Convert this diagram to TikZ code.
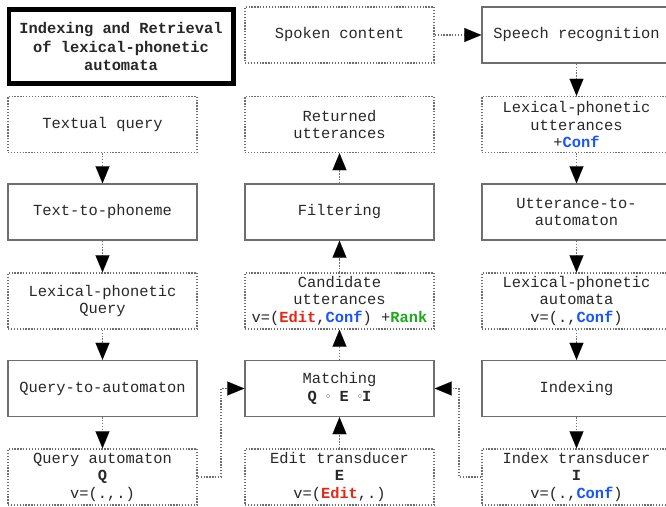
\documentclass[tikz,border=0pt]{standalone}
\usepackage{fontspec}
\setmainfont{Liberation Mono}
\usetikzlibrary{arrows.meta}
\definecolor{boxline}{RGB}{110,110,110}
\definecolor{txt}{RGB}{40,40,40}
\definecolor{editred}{RGB}{228,40,20}
\definecolor{confblue}{RGB}{25,85,255}
\definecolor{rankgreen}{RGB}{30,170,30}
\newcommand{\editv}{\textcolor{editred}{\bfseries Edit}}
\newcommand{\confv}{\textcolor{confblue}{\bfseries Conf}}
\newcommand{\rankv}{\textcolor{rankgreen}{\bfseries Rank}}
\newcommand{\compop}{\raisebox{0.35ex}{\footnotesize$\circ$}}
\tikzset{
  box/.style={rectangle, inner sep=0pt, minimum width=189pt, minimum height=56pt,
    align=center, text=txt, font=\fontsize{15.4}{17.5}\selectfont},
  procbox/.style={box, draw=boxline, line width=1.4pt},
  databox/.style={box, draw=boxline, line width=1.4pt, dash pattern=on 1.3pt off 1.6pt},
  titlebox/.style={rectangle, inner sep=0pt, minimum width=224.5pt, minimum height=74pt,
    align=center, draw=black, line width=4.5pt, text=txt,
    font=\bfseries\fontsize{15.4}{18.5}\selectfont},
  conn/.style={draw=boxline, line width=1.4pt, dash pattern=on 1.3pt off 1.6pt,
    -{Triangle[length=17pt,width=14pt,color=black,line width=0.1pt]}},
}
\begin{document}
\begin{tikzpicture}[x=1pt, y=-1pt]
  \fill[white] (0,0) rectangle (666,506);
  \useasboundingbox (0,0) rectangle (666,506);

  % query side
  \node[titlebox] (title) at (121,46.5) {Indexing and Retrieval\\of lexical-phonetic\\automata};
  \node[databox] (tq) at (102.5,124.5) {Textual query};
  \node[procbox] (t2p) at (102.5,212) {Text-to-phoneme};
  \node[databox] (lpq) at (102.5,301) {Lexical-phonetic\\Query};
  \node[procbox] (q2a) at (102.5,388.5) {Query-to-automaton};
  \node[databox] (qa) at (102.5,477) {Query automaton\\{\bfseries Q}\\v=(.,.)};

  % matching column
  \node[databox] (spoken) at (339.5,35) {Spoken content};
  \node[databox] (ret) at (339.5,124.5) {Returned\\utterances};
  \node[procbox] (filt) at (339.5,212) {Filtering};
  \node[databox] (cand) at (339.5,301) {Candidate\\utterances\\v=(\editv,\confv) +\rankv};
  \node[procbox] (match) at (339.5,388.5) {Matching\\{\bfseries Q} \compop{} {\bfseries E} \compop{\bfseries I}};
  \node[databox] (edit) at (339.5,477) {Edit transducer\\{\bfseries E}\\v=(\editv,.)};

  % index side
  \node[procbox] (asr) at (576.5,35) {Speech recognition};
  \node[databox] (lpu) at (576.5,124.5) {Lexical-phonetic\\utterances\\+\confv};
  \node[procbox] (u2a) at (576.5,212) {Utterance-to-\\automaton};
  \node[databox] (lpa) at (576.5,301) {Lexical-phonetic\\automata\\v=(.,\confv)};
  \node[procbox] (idx) at (576.5,388.5) {Indexing};
  \node[databox] (it) at (576.5,477) {Index transducer\\{\bfseries I}\\v=(.,\confv)};

  % connectors
  \draw[conn] (tq) -- (t2p);
  \draw[conn] (t2p) -- (lpq);
  \draw[conn] (lpq) -- (q2a);
  \draw[conn] (q2a) -- (qa);

  \draw[conn] (spoken) -- (asr);
  \draw[conn] (asr) -- (lpu);
  \draw[conn] (lpu) -- (u2a);
  \draw[conn] (u2a) -- (lpa);
  \draw[conn] (lpa) -- (idx);
  \draw[conn] (idx) -- (it);

  \draw[conn] (edit) -- (match);
  \draw[conn] (match) -- (cand);
  \draw[conn] (cand) -- (filt);
  \draw[conn] (filt) -- (ret);

  \coordinate (qbend) at (221,477);
  \coordinate (ibend) at (459,477);
  \draw[conn] (qa.east) -- (qbend) |- (match.west);
  \draw[conn] (it.west) -- (ibend) |- (match.east);
\end{tikzpicture}
\end{document}
